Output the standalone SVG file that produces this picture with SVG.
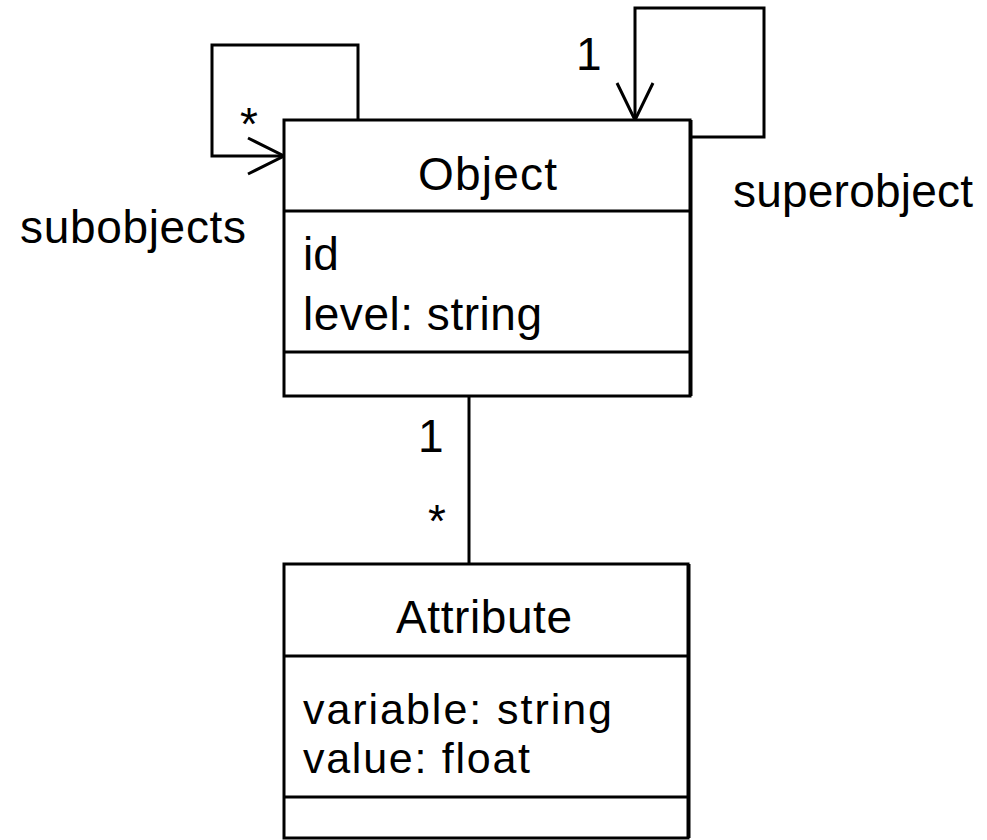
<svg xmlns="http://www.w3.org/2000/svg" width="987" height="840" viewBox="0 0 987 840">
<style>
.box{fill:#fff;stroke:#000;stroke-width:3}
.ln{fill:none;stroke:#000;stroke-width:3}
.t{font-family:"Liberation Sans",Arial,sans-serif;font-size:46px;fill:#000}
.s{font-size:43px}
.m{text-anchor:middle}
</style>
<rect width="987" height="840" fill="#fff"/>
<g id="connectors">
<polyline class="ln" points="358,120 358,45 212,45 212,156 284,156"/>
<polyline class="ln" points="248,138 284,156 248,174"/>
<polyline class="ln" points="690,137 764,137 764,8 635,8 635,120"/>
<polyline class="ln" points="617,83 635,120 653,83"/>
<line class="ln" x1="469" y1="396" x2="469" y2="564"/>
<text class="t" x="240" y="140">*</text>
<text class="t" x="576" y="70">1</text>
<text class="t" x="20" y="243" textLength="226" lengthAdjust="spacing">subobjects</text>
<text class="t" x="733" y="207" textLength="240" lengthAdjust="spacing">superobject</text>
<text class="t" x="418" y="452">1</text>
<text class="t" x="428" y="537">*</text>
</g>
<g id="Object">
<rect class="box" x="284" y="120" width="406" height="276"/>
<line class="ln" x1="691" y1="120" x2="691" y2="396"/>
<line class="ln" x1="284" y1="211" x2="690" y2="211"/>
<line class="ln" x1="284" y1="352" x2="690" y2="352"/>
<text class="t" x="418" y="190" textLength="139" lengthAdjust="spacing">Object</text>
<text class="t" x="303" y="270">id</text>
<text class="t" x="303" y="330" textLength="239" lengthAdjust="spacing">level: string</text>
</g>
<g id="Attribute">
<rect class="box" x="284" y="564" width="404" height="274"/>
<line class="ln" x1="689" y1="564" x2="689" y2="838"/>
<line class="ln" x1="284" y1="656" x2="688" y2="656"/>
<line class="ln" x1="284" y1="797" x2="688" y2="797"/>
<text class="t" x="396" y="633" textLength="176" lengthAdjust="spacing">Attribute</text>
<text class="t s" x="303" y="724" textLength="309" lengthAdjust="spacing">variable: string</text>
<text class="t s" x="303" y="773" textLength="227" lengthAdjust="spacing">value: float</text>
</g>
</svg>
